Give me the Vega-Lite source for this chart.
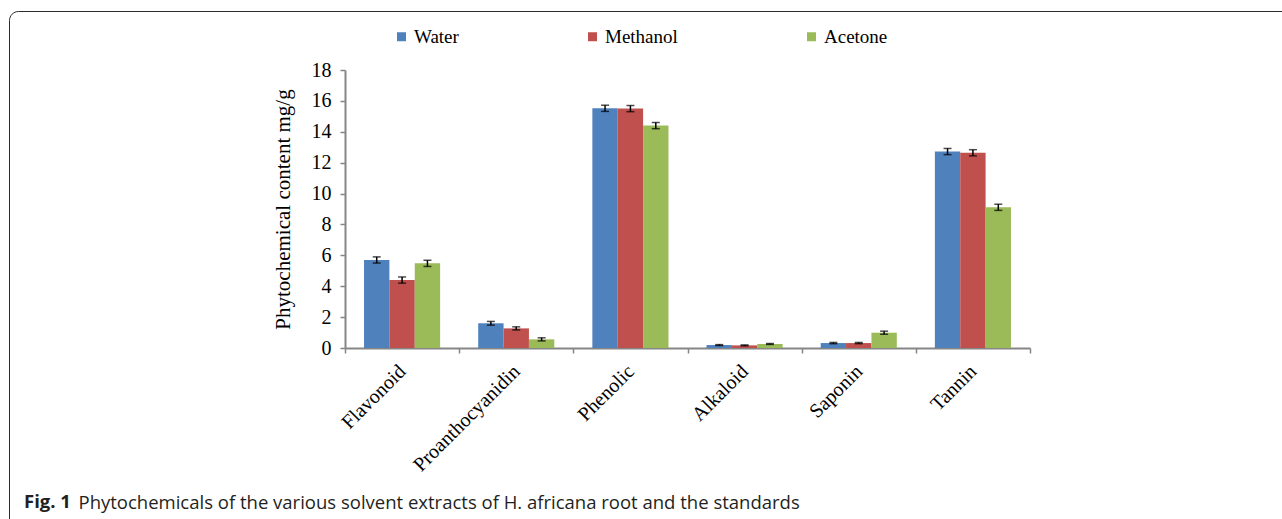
{
  "$schema": "https://vega.github.io/schema/vega-lite/v6.json",
  "width": 685,
  "height": 278,
  "autosize": {"type": "none"},
  "padding": {"left": 345, "top": 70, "right": 252, "bottom": 171},
  "background": "white",
  "data": {
    "values": [
      {"compound": "Flavonoid", "solvent": "Water", "value": 5.70, "lo": 5.50, "hi": 5.90},
      {"compound": "Flavonoid", "solvent": "Methanol", "value": 4.40, "lo": 4.20, "hi": 4.60},
      {"compound": "Flavonoid", "solvent": "Acetone", "value": 5.48, "lo": 5.28, "hi": 5.68},
      {"compound": "Proanthocyanidin", "solvent": "Water", "value": 1.60, "lo": 1.48, "hi": 1.72},
      {"compound": "Proanthocyanidin", "solvent": "Methanol", "value": 1.27, "lo": 1.17, "hi": 1.37},
      {"compound": "Proanthocyanidin", "solvent": "Acetone", "value": 0.56, "lo": 0.46, "hi": 0.66},
      {"compound": "Phenolic", "solvent": "Water", "value": 15.52, "lo": 15.32, "hi": 15.72},
      {"compound": "Phenolic", "solvent": "Methanol", "value": 15.50, "lo": 15.30, "hi": 15.70},
      {"compound": "Phenolic", "solvent": "Acetone", "value": 14.40, "lo": 14.20, "hi": 14.60},
      {"compound": "Alkaloid", "solvent": "Water", "value": 0.19, "lo": 0.16, "hi": 0.22},
      {"compound": "Alkaloid", "solvent": "Methanol", "value": 0.17, "lo": 0.14, "hi": 0.20},
      {"compound": "Alkaloid", "solvent": "Acetone", "value": 0.26, "lo": 0.23, "hi": 0.29},
      {"compound": "Saponin", "solvent": "Water", "value": 0.32, "lo": 0.28, "hi": 0.36},
      {"compound": "Saponin", "solvent": "Methanol", "value": 0.32, "lo": 0.28, "hi": 0.36},
      {"compound": "Saponin", "solvent": "Acetone", "value": 0.99, "lo": 0.89, "hi": 1.09},
      {"compound": "Tannin", "solvent": "Water", "value": 12.72, "lo": 12.52, "hi": 12.92},
      {"compound": "Tannin", "solvent": "Methanol", "value": 12.64, "lo": 12.44, "hi": 12.84},
      {"compound": "Tannin", "solvent": "Acetone", "value": 9.11, "lo": 8.91, "hi": 9.31}
    ]
  },
  "title": {
    "text": "Fig. 1",
    "orient": "top",
    "anchor": "start",
    "frame": "group",
    "font": "Open Sans",
    "fontWeight": "bold",
    "fontSize": 18.5,
    "color": "#231f20",
    "baseline": "alphabetic",
    "offset": 0,
    "dx": -321,
    "dy": 516
  },
  "encoding": {
    "x": {
      "field": "compound",
      "type": "nominal",
      "sort": null,
      "scale": {"paddingInner": 0, "paddingOuter": 0},
      "axis": {
        "title": "Phytochemicals of the various solvent extracts of H. africana root and the standards",
        "titleX": -267,
        "titleY": 160,
        "titleAlign": "left",
        "titleAnchor": null,
        "titleBaseline": "alphabetic"
      }
    }
  },
  "layer": [
    {
      "mark": {"type": "bar"},
      "encoding": {
        "xOffset": {"field": "solvent", "type": "nominal", "sort": ["Water", "Methanol", "Acetone"], "scale": {"paddingInner": 0, "paddingOuter": 0.75}},
        "y": {
          "field": "value",
          "type": "quantitative",
          "scale": {"domain": [0, 18], "nice": false},
          "axis": {"values": [0, 2, 4, 6, 8, 10, 12, 14, 16, 18], "title": "Phytochemical content mg/g"}
        },
        "color": {
          "field": "solvent",
          "type": "nominal",
          "sort": ["Water", "Methanol", "Acetone"],
          "scale": {"domain": ["Water", "Methanol", "Acetone"], "range": ["#4f81bd", "#c0504d", "#9bbb59"]},
          "legend": {
            "orient": "none",
            "legendX": 47,
            "legendY": -43,
            "direction": "horizontal",
            "title": null,
            "symbolType": "square",
            "symbolSize": 81,
            "symbolStrokeWidth": 0,
            "labelFont": "Liberation Serif",
            "labelFontSize": 19,
            "labelColor": "#000000",
            "labelOffset": 3,
            "columnPadding": 124,
            "padding": 0
          }
        }
      }
    },
    {
      "mark": {"type": "rule", "color": "#000000", "strokeWidth": 1.5},
      "encoding": {
        "xOffset": {"field": "solvent", "type": "nominal", "sort": ["Water", "Methanol", "Acetone"]},
        "y": {
          "field": "lo",
          "type": "quantitative",
          "axis": {"values": [0, 2, 4, 6, 8, 10, 12, 14, 16, 18], "title": "Phytochemical content mg/g"}
        },
        "y2": {"field": "hi"},
        "opacity": {
          "datum": "frame",
          "type": "ordinal",
          "scale": {"range": [1]},
          "legend": {
            "orient": "none",
            "legendX": -336,
            "legendY": -59,
            "title": null,
            "padding": 0,
            "strokeColor": "#2b2b2b",
            "cornerRadius": 9,
            "symbolType": "square",
            "symbolSize": 4000000,
            "symbolFillColor": "transparent",
            "symbolStrokeColor": "transparent",
            "symbolStrokeWidth": 0,
            "labelColor": "transparent",
            "labelFontSize": 1
          }
        }
      }
    },
    {
      "mark": {"type": "tick", "color": "#000000", "thickness": 1.5, "size": 8},
      "encoding": {
        "xOffset": {"field": "solvent", "type": "nominal", "sort": ["Water", "Methanol", "Acetone"]},
        "y": {
          "field": "lo",
          "type": "quantitative",
          "axis": {"values": [0, 2, 4, 6, 8, 10, 12, 14, 16, 18], "title": "Phytochemical content mg/g"}
        }
      }
    },
    {
      "mark": {"type": "tick", "color": "#000000", "thickness": 1.5, "size": 8},
      "encoding": {
        "xOffset": {"field": "solvent", "type": "nominal", "sort": ["Water", "Methanol", "Acetone"]},
        "y": {
          "field": "hi",
          "type": "quantitative",
          "axis": {"values": [0, 2, 4, 6, 8, 10, 12, 14, 16, 18], "title": "Phytochemical content mg/g"}
        }
      }
    }
  ],
  "config": {
    "view": {"stroke": null},
    "tick": {"orient": "horizontal"},
    "axisY": {
      "titleFont": "Liberation Serif",
      "titleFontSize": 21,
      "titleFontWeight": "normal",
      "titleColor": "#000000",
      "titlePadding": 18,
      "labelFont": "Liberation Serif",
      "labelFontSize": 20,
      "labelColor": "#000000",
      "labelPadding": 9,
      "labelOverlap": false,
      "tickSize": 5,
      "tickColor": "#868686",
      "tickWidth": 1.5,
      "domainColor": "#868686",
      "domainWidth": 2,
      "grid": false
    },
    "axisX": {
      "titleFont": "Open Sans",
      "titleFontWeight": "normal",
      "titleFontSize": 18.5,
      "titleColor": "#231f20",
      "labelAngle": -45,
      "labelAlign": "right",
      "labelBaseline": "middle",
      "labelPadding": 15,
      "labelFont": "Liberation Serif",
      "labelFontSize": 20,
      "labelColor": "#000000",
      "labelOverlap": false,
      "tickBand": "extent",
      "tickSize": 5,
      "tickColor": "#868686",
      "tickWidth": 1.5,
      "domainColor": "#868686",
      "domainWidth": 2,
      "grid": false
    }
  }
}
